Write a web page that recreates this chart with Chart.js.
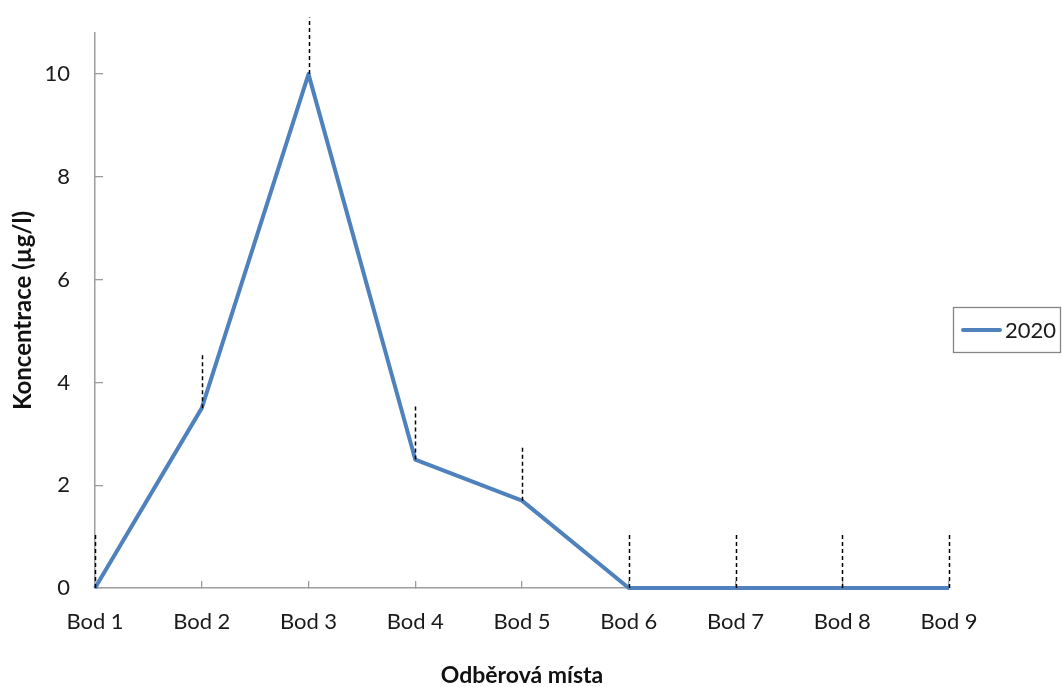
<!DOCTYPE html>
<html>
<head>
<meta charset="utf-8">
<script src="https://cdn.jsdelivr.net/npm/chart.js@4.4.1/dist/chart.umd.min.js"></script>
<style>
  html, body { margin: 0; padding: 0; background: #fff; }
  #wrap { width: 1063px; height: 687px; position: relative; }
</style>
</head>
<body>
<div id="wrap"><canvas id="c" width="1063" height="687"></canvas></div>
<script>
const categories = ['Bod 1', 'Bod 2', 'Bod 3', 'Bod 4', 'Bod 5', 'Bod 6', 'Bod 7', 'Bod 8', 'Bod 9'];
const values2020 = [0, 3.5, 10, 2.5, 1.7, 0, 0, 0, 0];
const errorPlus = [1.05, 1.05, 1.1, 1.05, 1.05, 1.05, 1.05, 1.05, 1.05];
const yTickValues = [0, 2, 4, 6, 8, 10];
const seriesLabel = '2020';
const yTitle = 'Koncentrace (µg/l)';
const xTitle = 'Odběrová místa';

const FONT = 'Lato, "Noto Sans", sans-serif';
const AXIS = '#9d9d9d';
const BLUE = '#4f81bd';

const errorBarPlugin = {
  id: 'errorBars',
  afterDatasetsDraw(chart) {
    const ctx = chart.ctx;
    const xs = chart.scales.x, ys = chart.scales.y;
    ctx.save();
    ctx.strokeStyle = '#000';
    ctx.lineWidth = 1.5;
    ctx.setLineDash([4, 3]);
    values2020.forEach((v, i) => {
      const x = Math.round(xs.getPixelForValue(i)) + 0.5;
      const y0 = ys.getPixelForValue(v);
      const y1 = ys.getPixelForValue(v + errorPlus[i]);
      ctx.beginPath();
      ctx.moveTo(x, y0);
      ctx.lineTo(x, y1);
      ctx.stroke();
    });
    ctx.restore();
  }
};

const boxLegendPlugin = {
  id: 'boxLegend',
  afterDraw(chart) {
    const ctx = chart.ctx;
    const ds = chart.data.datasets[0];
    ctx.save();
    ctx.strokeStyle = '#858585';
    ctx.lineWidth = 1.3;
    ctx.strokeRect(953.5, 307.5, 107, 45);
    ctx.strokeStyle = ds.borderColor;
    ctx.lineWidth = 4;
    ctx.lineCap = 'round';
    ctx.beginPath();
    ctx.moveTo(963, 330);
    ctx.lineTo(1000, 330);
    ctx.stroke();
    ctx.fillStyle = '#1a1a1a';
    ctx.font = '22px ' + FONT;
    ctx.textBaseline = 'middle';
    ctx.textAlign = 'left';
    ctx.fillText(ds.label, 1005, 331);
    ctx.restore();
  }
};

new Chart(document.getElementById('c'), {
  type: 'line',
  data: {
    labels: categories,
    datasets: [{
      label: seriesLabel,
      data: values2020,
      borderColor: BLUE,
      backgroundColor: BLUE,
      borderWidth: 4,
      borderJoinStyle: 'round',
      borderCapStyle: 'butt',
      pointRadius: 0,
      pointHoverRadius: 0,
      tension: 0,
      clip: false
    }]
  },
  options: {
    responsive: false,
    animation: false,
    events: [],
    layout: { padding: { top: 33, right: 114, bottom: 0, left: 0 } },
    plugins: {
      legend: { display: false },
      tooltip: { enabled: false }
    },
    scales: {
      x: {
        type: 'category',
        offset: false,
        afterFit(scale) { scale.height = 99; scale.paddingLeft = 0; scale.paddingRight = 0; },
        border: { display: true, color: AXIS, width: 1.5 },
        grid: { display: true, drawOnChartArea: false, drawTicks: true, tickLength: -7, color: AXIS, lineWidth: 1.3 },
        ticks: { padding: 28, color: '#1a1a1a', font: { family: FONT, size: 22 }, maxRotation: 0, autoSkip: false },
        title: { display: true, text: xTitle, color: '#111', font: { family: FONT, size: 23, weight: 'bold', lineHeight: 1 }, padding: { top: 0, bottom: 0 } }
      },
      y: {
        min: 0,
        max: 10.8,
        afterFit(scale) { scale.width = 95; scale.paddingTop = 0; scale.paddingBottom = 0; },
        afterBuildTicks(scale) { scale.ticks = yTickValues.map(v => ({ value: v })); },
        border: { display: true, color: AXIS, width: 1.5 },
        grid: { display: true, drawOnChartArea: false, drawTicks: true, tickLength: -8, color: AXIS, lineWidth: 1.3 },
        ticks: { padding: 33, color: '#1a1a1a', font: { family: FONT, size: 22 } },
        title: { display: true, text: yTitle, color: '#111', font: { family: FONT, size: 24, weight: 'bold', lineHeight: 1 }, padding: { top: 11, bottom: 0 } }
      }
    }
  },
  plugins: [errorBarPlugin, boxLegendPlugin]
});
</script>
</body>
</html>
